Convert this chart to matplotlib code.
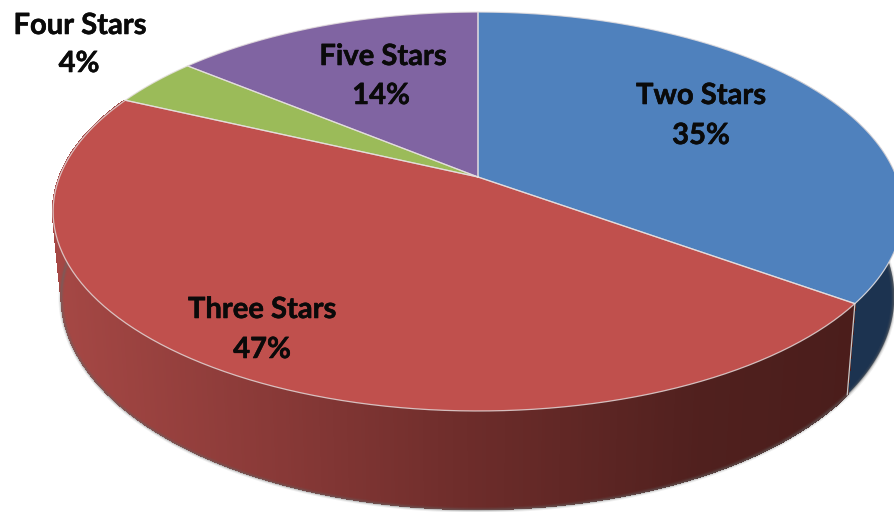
import numpy as np
import matplotlib
matplotlib.use("Agg")
import matplotlib.pyplot as plt
import matplotlib.patheffects as pe
from matplotlib.collections import PolyCollection

labels = ["Two Stars", "Three Stars", "Four Stars", "Five Stars"]
shares = [35, 47, 4, 14]
colors = ["#4f81bd", "#c0504d", "#9bbb59", "#8064a2"]

label_xy = [(701, 96), (262, 310), (80, 26), (383, 57)]
pct_xy = [(701, 136), (262, 350), (79, 64), (381, 96)]

# perspective of the pie, in pixels
CX = 478
TOP_Y, TOP_H, TOP_A = 177, 193.5, 418.5
BOT_Y, BOT_H, BOT_A = 260, 206, 410
K = 0.173


def rim(theta, cy, h, a):
    u, v = np.sin(theta), np.cos(theta)
    w = 1 + K * v
    return CX + a * u / w, cy - h * v / w


def top_rim(theta):
    return rim(theta, TOP_Y, TOP_H, TOP_A)


def bot_rim(theta):
    return rim(theta, BOT_Y, BOT_H, BOT_A)


def red_side(x):
    # side gets darker going right
    xs = [60, 300, 478, 700, 860]
    r = np.interp(x, xs, [0xa6, 0x86, 0x6c, 0x50, 0x4a]) / 255
    g = np.interp(x, xs, [0x48, 0x38, 0x2c, 0x20, 0x1d]) / 255
    b = np.interp(x, xs, [0x45, 0x36, 0x2a, 0x1e, 0x1b]) / 255
    return (r, g, b)


fig = plt.figure(figsize=(8.95, 5.12), dpi=100)
ax = fig.add_axes([0, 0, 1, 1])
ax.set_xlim(0, 895)
ax.set_ylim(512, 0)
ax.axis("off")

edges = np.cumsum([0] + shares) / sum(shares) * 2 * np.pi

# side wall, blue part is one flat shape
side_th = np.linspace(np.radians(55), edges[1], 100)
tx, ty = top_rim(side_th)
bx, by = bot_rim(side_th)
ax.fill(np.r_[tx, bx[::-1]], np.r_[ty, by[::-1]], facecolor="#1c3350", edgecolor="none", zorder=2)

side_th = np.linspace(edges[1], np.radians(295), 400)[::-1]
polys = []
cols = []
for t0, t1 in zip(side_th[:-1], side_th[1:]):
    x0, y0 = top_rim(t0)
    x1, y1 = top_rim(t1)
    x2, y2 = bot_rim(t1)
    x3, y3 = bot_rim(t0)
    polys.append([(x0, y0), (x1, y1), (x2, y2), (x3, y3)])
    cols.append(red_side((x2 + x3) / 2))
ax.add_collection(PolyCollection(polys, facecolors=cols, edgecolors=cols, linewidths=1.0,
                                 antialiaseds=False, zorder=3))

# soft shadow along the bottom edge
th = np.linspace(np.radians(60), np.radians(290), 300)
bx, by = bot_rim(th)
for lw, al in [(4, 0.10), (2.5, 0.18), (1.2, 0.35)]:
    ax.plot(bx - 0.5, by + 0.8, color="#666666", lw=lw, alpha=al, zorder=4)

# seam between blue and red wall
sx0, sy0 = top_rim(edges[1])
sx1, sy1 = bot_rim(edges[1])
ax.plot([sx0, sx1], [sy0, sy1], color="#c8c8c8", lw=0.9, zorder=4)

# top face
for i in range(len(shares)):
    t = np.linspace(edges[i], edges[i + 1], 200)
    x, y = top_rim(t)
    ax.fill(np.r_[CX, x], np.r_[TOP_Y, y], facecolor=colors[i], edgecolor="none", zorder=5)

for i in range(len(shares)):
    t = np.linspace(edges[i], edges[i + 1], 200)
    x, y = top_rim(t)
    ax.plot(np.r_[CX, x, CX], np.r_[TOP_Y, y, TOP_Y], color="#e6e0e0", lw=0.9, alpha=0.8, zorder=6)

heavy = [pe.withStroke(linewidth=0.4, foreground="#0a0a0a")]
for i, name in enumerate(labels):
    ax.text(label_xy[i][0], label_xy[i][1], name, ha="center", va="center", family="Lato",
            fontweight="bold", fontsize=21, color="#0a0a0a", zorder=7, path_effects=heavy)
    ax.text(pct_xy[i][0], pct_xy[i][1], "%d%%" % shares[i], ha="center", va="center", family="Lato",
            fontweight="bold", fontsize=21, color="#0a0a0a", zorder=7, path_effects=heavy)

fig.savefig("out.png", dpi=100, facecolor="white")
